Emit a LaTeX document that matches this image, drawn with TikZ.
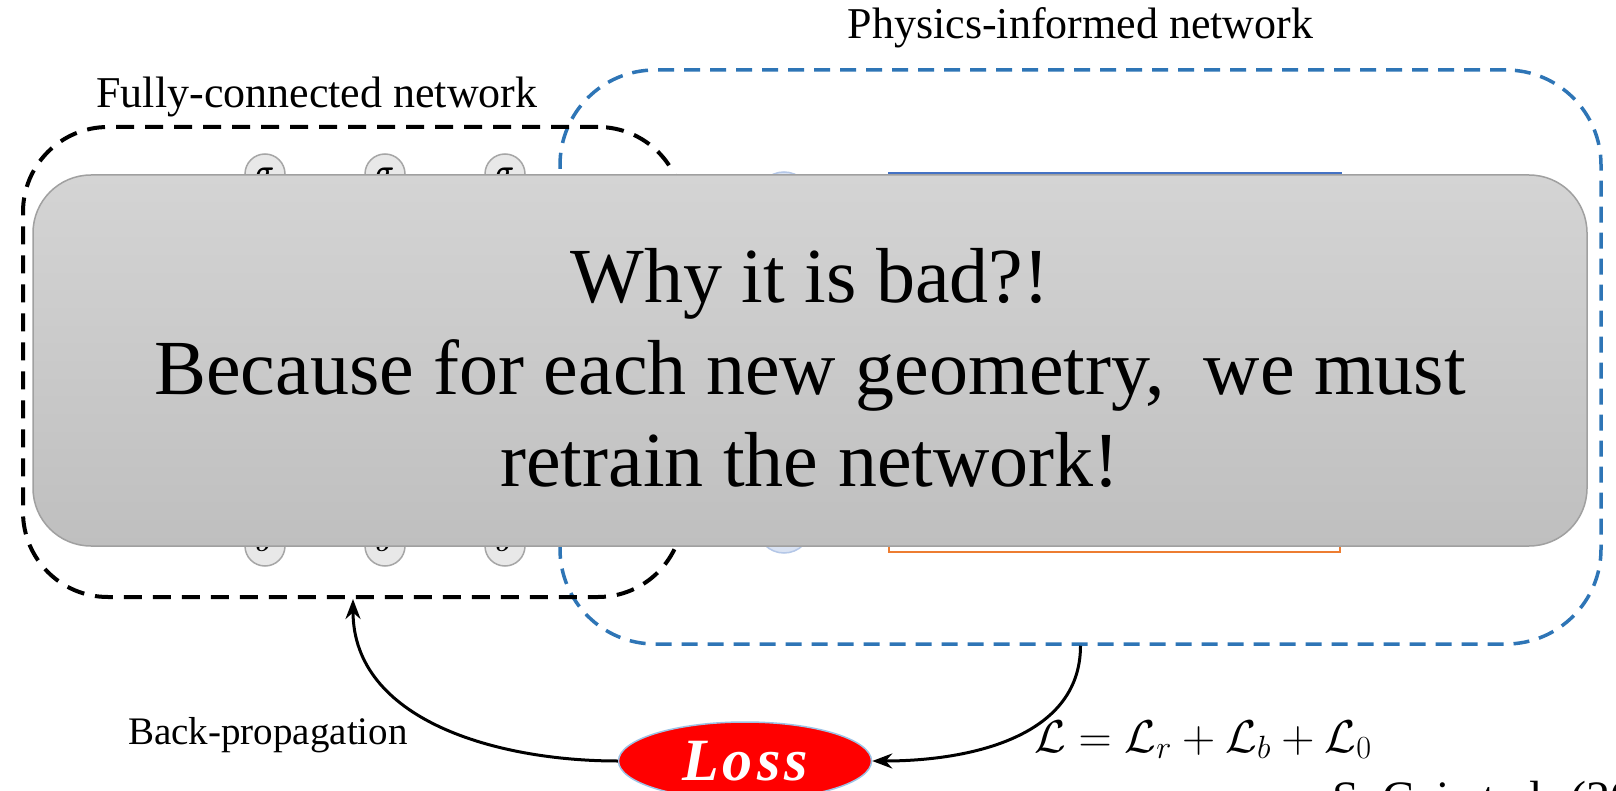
\RequirePackage{fix-cm}
\documentclass[tikz,border=0pt]{standalone}
\usepackage{amsmath}
\usepackage{fontspec}
\setmainfont{Liberation Serif}
\usepackage{tikz}
\usetikzlibrary{positioning,arrows.meta,shapes.geometric}
\definecolor{pinnBlue}{HTML}{2E75B6}
\definecolor{lossRed}{HTML}{FF0000}
\definecolor{lossRim}{HTML}{9DC3E6}
\definecolor{neuronFill}{HTML}{E8E8E8}
\definecolor{neuronEdge}{HTML}{A6A6A6}
\definecolor{inputFill}{HTML}{DAE3F3}
\definecolor{inputEdge}{HTML}{B4C7E7}
\definecolor{fieldBlue}{HTML}{4472C4}
\definecolor{fieldOrange}{HTML}{ED7D31}
\definecolor{panelTop}{HTML}{D4D4D4}
\definecolor{panelBottom}{HTML}{BFBFBF}
\definecolor{panelEdge}{HTML}{A0A0A0}
\tikzset{
  netbox/.style={draw=black,line width=4pt,dash pattern=on 18pt off 11pt,
    rounded corners=85pt,inner sep=0pt},
  neuron/.style={circle,draw=neuronEdge,fill=neuronFill,line width=1.5pt,
    minimum size=40pt,inner sep=0pt,font=\fontsize{26}{30}\selectfont},
  inputnode/.style={circle,draw=inputEdge,fill=inputFill,line width=1.5pt,
    minimum size=54pt,inner sep=0pt},
  fieldbox/.style={rectangle,line width=3pt,minimum width=451pt,inner sep=0pt},
  caption/.style={inner sep=0pt,font=\fontsize{44}{50}\selectfont},
  lossnode/.style={ellipse,draw=lossRim,fill=lossRed,line width=1.5pt,
    minimum width=253pt,minimum height=78pt,inner sep=0pt,text=white,
    font=\fontsize{60}{64}\selectfont\bfseries\itshape\addfontfeatures{LetterSpace=7}},
  flowarrow/.style={-{Stealth[length=20pt,width=15pt]},line width=3pt,draw=black},
  panel/.style={draw=panelEdge,line width=1.5pt,top color=panelTop,
    bottom color=panelBottom,rounded corners=58pt,
    minimum width=1554pt,minimum height=371pt,inner sep=0pt},
  message/.style={align=center,inner sep=0pt,font=\fontsize{78}{92}\selectfont}
}

\begin{document}
\begin{tikzpicture}[x=1pt,y=-1pt,node distance=20pt]
  \path[use as bounding box,fill=white] (0,0) rectangle (1616,791);
  % network pieces that sit behind the panel
  \node[neuron] (sigTopA) at (265,174) {$\boldsymbol{\sigma}$};
  \node[neuron] (sigTopB) at (385,174) {$\boldsymbol{\sigma}$};
  \node[neuron] (sigTopC) at (505,174) {$\boldsymbol{\sigma}$};
  \node[neuron] (sigBotA) at (265,546) {$\boldsymbol{\sigma}$};
  \node[neuron] (sigBotB) at (385,546) {$\boldsymbol{\sigma}$};
  \node[neuron] (sigBotC) at (505,546) {$\boldsymbol{\sigma}$};
  \node[inputnode] (inTop) at (784,199) {};
  \node[inputnode] (inBot) at (784,526) {};
  \node[fieldbox,draw=fieldBlue,minimum height=156pt] (pdeBox) at (1114.5,252) {};
  \node[fieldbox,draw=fieldOrange,line width=2.5pt,minimum height=162pt] (bcBox) at (1114.5,471) {};

  \node[netbox,draw=pinnBlue,line width=3.5pt,dash pattern=on 16pt off 10pt,
    rounded corners=95pt,minimum width=1041pt,minimum height=574pt] (pinnet) at (1080.5,357) {};
  \node[netbox,minimum width=660pt,minimum height=470pt] (fcnet) at (353,362) {};
  \node[caption,above=8pt of fcnet,xshift=-36pt] (fcLabel) {Fully-connected network};
  \node[caption,above=20pt of pinnet] (pinnLabel) {Physics-informed network};

  \node[lossnode] (loss) at (745,761) {Loss};
  \node[caption,font=\fontsize{39}{44}\selectfont,anchor=base] (bpLabel) at (268,744) {Back-propagation};
  \node[caption,font=\fontsize{46}{52}\selectfont,anchor=base west] (lossSum) at (1034,752)
    {$\mathcal{L}=\mathcal{L}_r+\mathcal{L}_b+\mathcal{L}_0$};
  \draw[flowarrow] (pinnet.south) to[out=-90,in=0] (loss.east);
  \draw[flowarrow] (loss.west) to[out=180,in=-90] (fcnet.south);

  \node[panel] (verdict) at (810,360.5) {};
  \node[message] (verdictText) at ([yshift=-7pt]verdict.center)
    {Why it is bad?!\\Because for each new geometry, \ we must\\retrain the network!};
  \node[caption,font=\fontsize{48}{56}\selectfont,anchor=base west] (cite) at (1332,814)
    {S. Cai et al. (2021)};
\end{tikzpicture}
\end{document}
